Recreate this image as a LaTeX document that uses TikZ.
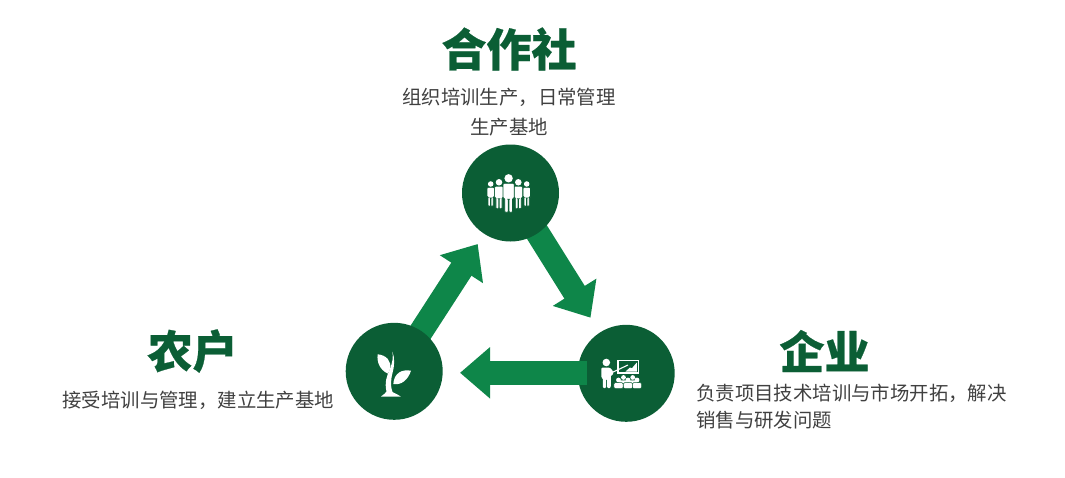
\documentclass[tikz,border=0pt]{standalone}
\usepackage{fontspec}
\setmainfont{Noto Sans CJK SC}[BoldFeatures={FakeBold=0.5}]
\usetikzlibrary{arrows.meta, backgrounds}

\definecolor{darkgreen}{HTML}{0B5E35}
\definecolor{flowgreen}{HTML}{0E8649}
\definecolor{bodygray}{HTML}{404040}

\tikzset{
  hub/.style={circle, fill=darkgreen, inner sep=0, minimum size=97pt},
  heading/.style={text=darkgreen, font=\fontsize{45}{45}\selectfont\bfseries, inner sep=0},
  blurb/.style={text=bodygray, font=\fontsize{19.4}{30}\selectfont, inner sep=0},
  flow/.style={draw=flowgreen, line width=24pt, -{Triangle[length=30pt, width=49.5pt]}},
  person/.pic={
    \fill[white] (0,0) circle (4.2);
    \fill[white, draw=darkgreen, line width=0.7pt, rounded corners=1pt]
      (-5.6,5) -- (5.6,5) -- (5.6,20) -- (3.9,20) -- (3.9,34) -- (0.3,34) -- (0.3,21)
      -- (-0.3,21) -- (-0.3,34) -- (-3.9,34) -- (-3.9,20) -- (-5.6,20) -- cycle;
  },
  pupil/.pic={
    \fill[white] (0,0) circle (2.4);
    \fill[white, draw=darkgreen, line width=0.6pt, rounded corners=1.2pt]
      (-4.6,2.6) -- (4.6,2.6) -- (4.6,8.6) -- (-4.6,8.6) -- cycle;
  }
}

\begin{document}
\begin{tikzpicture}[x=1pt, y=-1pt]
  \useasboundingbox (0,0) rectangle (1065,477);

  % Circles
  \node[hub] (coop) at (510.5,193) {};
  \node[hub] (farmer) at (394.2,371.3) {};
  \node[hub] (firm) at (626.2,373.3) {};

  % Arrow tips
  \coordinate (coopIn) at (477.7,244);
  \coordinate (firmIn) at (590.5,317.7);
  \coordinate (farmerIn) at (460,372.8);

  % Arrows
  \begin{scope}[on background layer]
    \draw[flow, shorten <=-12pt] (farmer.56) -- (coopIn);
    \draw[flow, shorten <=-12pt] (coop.-56) -- (firmIn);
  \end{scope}
  \draw[flow, shorten <=39.2pt] (firm.center |- farmerIn) -- (farmerIn);

  % Headings
  \node[heading] (coopTitle) at (509,49) {合作社};
  \node[heading] (farmerTitle) at (192.5,351) {农户};
  \node[heading] (firmTitle) at (824.5,351) {企业};

  % Texts
  \node[blurb, align=center] (coopText) at (509,112) {组织培训生产，日常管理\\生产基地};
  \node[blurb] (farmerText) at (198.2,400) {接受培训与管理，建立生产基地};
  \node[blurb, align=left, font=\fontsize{19.4}{27}\selectfont, anchor=west] (firmText) at (696,406.5) {负责项目技术培训与市场开拓，解决\\销售与研发问题};

  % Icon in top circle
  \pic at (490.7,184) [scale=0.66] {person};
  \pic at (526.7,184) [scale=0.66] {person};
  \pic at (499,182.3) [scale=0.78] {person};
  \pic at (518.3,182.3) [scale=0.78] {person};
  \pic at (508.6,178.3) {person};

  % Icon in left circle
  \fill[white] (377.7,354.3) .. controls (386,355) and (392,361) .. (390,369)
    .. controls (389.5,371) and (388.5,372.5) .. (387.7,373.5)
    .. controls (380,370) and (376.5,362) .. (377.7,354.3) -- cycle;
  \fill[white] (411,370.7) .. controls (402,369) and (394,373) .. (393.3,384)
    .. controls (401,385.5) and (408,380) .. (411,370.7) -- cycle;
  \fill[white] (392.3,351.5) .. controls (395,358) and (394.5,366) .. (392.5,373)
    .. controls (390.5,381) and (390.5,387) .. (392.5,392)
    .. controls (394,393) and (397,394) .. (400.7,396.5) -- (381,396.5)
    .. controls (384,394) and (386,393) .. (386.5,391.5)
    .. controls (384.5,383) and (386.5,376) .. (390,369)
    .. controls (392.5,362) and (393.5,357) .. (392.3,351.5) -- cycle;

  % Icon in right circle
  \fill[white] (606.3,362.5) circle (3.8);
  \fill[white, rounded corners=1pt] (601.5,367.5) -- (609.5,367.5) -- (613,371) -- (613,375)
    -- (611,375) -- (610.7,388) -- (607.2,388) -- (607,379) -- (606.2,379)
    -- (606,388) -- (603,388) -- (602.8,378) -- (601.3,378) -- cycle;
  \draw[white, line width=1.1pt] (611,373) -- (628,365);
  \draw[white, line width=1.4pt] (618,360.3) rectangle (638.6,373);
  \fill[white] (625.5,371.5) -- (630,367.5) -- (632,368.2) -- (636.8,362.5) -- (636.8,371.5) -- cycle;
  \pic at (623.5,377.5) {pupil};
  \pic at (632.7,377.5) {pupil};
  \pic at (618.5,380) {pupil};
  \pic at (628,380) {pupil};
  \pic at (637,380) {pupil};

\end{tikzpicture}
\end{document}
